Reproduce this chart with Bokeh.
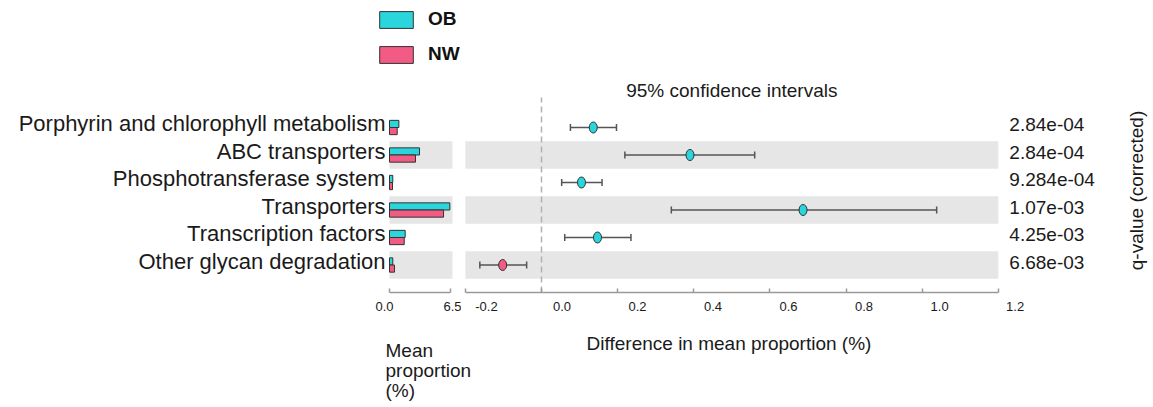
import math
from bokeh.plotting import figure
from bokeh.models import (Range1d, LinearAxis, FixedTicker, Label, Legend, LegendItem)
from bokeh.core.properties import value
from bokeh.layouts import row, column
from bokeh.embed import file_html
from bokeh.resources import INLINE

# ---------------- data ----------------
categories = ["Porphyrin and chlorophyll metabolism", "ABC transporters",
              "Phosphotransferase system", "Transporters",
              "Transcription factors", "Other glycan degradation"]
ob_mean = [1.00, 3.20, 0.35, 6.43, 1.67, 0.35]
nw_mean = [0.82, 2.77, 0.32, 5.76, 1.57, 0.53]
diff_mean = [0.136, 0.390, 0.105, 0.687, 0.147, -0.102]
ci_low = [0.076, 0.219, 0.053, 0.341, 0.061, -0.162]
ci_high = [0.197, 0.560, 0.159, 1.038, 0.235, -0.039]
q_values = ["2.84e-04", "2.84e-04", "9.284e-04", "1.07e-03", "4.25e-03", "6.68e-03"]
group_names = ["OB", "NW"]
bar_ticks = [0.0, 6.5]
diff_ticks = [-0.2, 0.0, 0.2, 0.4, 0.6, 0.8, 1.0, 1.2]
mean_label_lines = ["Mean", "proportion", "(%)"]
diff_axis_title = "Difference in mean proportion (%)"

# ---------------- style / layout ----------------
FONT = "Liberation Sans"
TXT = "#1a1a1a"
CYAN = "#2ad6dc"
PINK = "#f25c84"
BAND = "#e6e6e6"
AXC = "#9a9a9a"
W_A, W_B, W = 461, 692, 1153
H_TOP, H_BOT = 321, 86
AXIS_Y = 292                  # pixel row of the x axes
ROW_PX = 27.5                 # pixel height of one category row

n = len(categories)
ypos = [n - i for i in range(n)]          # first category on top
band_rows = ypos[1::2]
y_top = n + 1.09

# pixel anchors of the two x scales
A0, A_PER = 389, 61 / 6.5          # left panel: value 0 at px 389
B0, B_PER = 541, 380.7             # right panel: value 0 at px 541
LA0, LA_PER = 384, 73 / 6.5        # left tick-label positions
LB0, LB_PER = 561.5, 377.6         # right tick-label positions (set to the right of ticks)


def rng(p0, per, left, right):
    return Range1d((left - p0) / per, (right - p0) / per)


def base_fig(width, xr, lr):
    p = figure(width=width, height=H_TOP, x_range=xr, y_range=Range1d(0, AXIS_Y / ROW_PX),
               output_backend="svg", toolbar_location=None, title=None,
               x_axis_location=None, y_axis_location=None,
               min_border_left=0, min_border_right=0,
               min_border_top=0, min_border_bottom=H_TOP - AXIS_Y)
    p.extra_x_ranges = {"lbl": lr}
    p.outline_line_color = None
    p.grid.visible = False
    return p


def add_axes(p, ticks, bounds):
    ax = LinearAxis(ticker=FixedTicker(ticks=ticks), bounds=bounds)
    ax.axis_line_color = AXC
    ax.axis_line_width = 1.5
    ax.major_tick_line_color = AXC
    ax.major_tick_line_width = 1.5
    ax.major_tick_in = 4
    ax.major_tick_out = 0
    ax.minor_tick_line_color = None
    ax.major_label_text_color = None
    ax.major_label_text_font_size = "1px"
    ax.major_label_standoff = 0
    p.add_layout(ax, "below")
    lx = LinearAxis(x_range_name="lbl", ticker=FixedTicker(ticks=ticks),
                    major_label_overrides={t: f"{t:.1f}" for t in ticks})
    lx.axis_line_color = None
    lx.major_tick_line_color = None
    lx.minor_tick_line_color = None
    lx.major_tick_in = 0
    lx.major_tick_out = 0
    lx.major_label_standoff = 9
    lx.major_label_text_font = FONT
    lx.major_label_text_font_size = "13px"
    lx.major_label_text_color = TXT
    p.add_layout(lx, "below")


# ---------------- left panel: mean proportions ----------------
pa = base_fig(W_A, rng(A0, A_PER, 0, W_A), rng(LA0, LA_PER, 0, W_A))
pa.hbar(y=band_rows, left=0, right=6.71, height=1, fill_color=BAND, line_color=None)
r_ob = pa.hbar(y=[y + 0.13 for y in ypos], left=0, right=ob_mean, height=0.26,
               fill_color=CYAN, line_color="#333333", line_width=1)
r_nw = pa.hbar(y=[y - 0.13 for y in ypos], left=0, right=nw_mean, height=0.26,
               fill_color=PINK, line_color="#333333", line_width=1)
pa.text(x=[0] * n, y=ypos, text=categories, x_offset=-4, y_offset=-4,
        text_align="right", text_baseline="middle", text_font=value(FONT),
        text_font_size="22px", text_color=TXT)
add_axes(pa, bar_ticks, (0, 6.5))

legend = Legend(items=[LegendItem(label=group_names[0], renderers=[r_ob]),
                       LegendItem(label=group_names[1], renderers=[r_nw])],
                location=(375, 227), orientation="vertical",
                glyph_width=42, glyph_height=21, spacing=13, label_standoff=11,
                padding=0, margin=0, border_line_color=None, background_fill_alpha=0,
                label_text_font=FONT, label_text_font_size="19px",
                label_text_font_style="bold", label_text_color="#111111", label_height=21)
pa.add_layout(legend)

# ---------------- right panel: differences with CI ----------------
pb = base_fig(W_B, rng(B0, B_PER, W_A, W_A + W_B), rng(LB0, LB_PER, W_A, W_A + W_B))
pb.hbar(y=band_rows, left=diff_ticks[0], right=diff_ticks[-1], height=1,
        fill_color=BAND, line_color=None)
pb.segment(x0=[0], y0=[0], x1=[0], y1=[y_top], line_color="#b0b0b0",
           line_dash="6 4", line_width=1.5)
pb.segment(x0=ci_low, y0=ypos, x1=ci_high, y1=ypos, line_color="#555555", line_width=1.5)
pb.segment(x0=ci_low, y0=[y - 0.13 for y in ypos], x1=ci_low, y1=[y + 0.13 for y in ypos],
           line_color="#555555", line_width=1.5)
pb.segment(x0=ci_high, y0=[y - 0.13 for y in ypos], x1=ci_high, y1=[y + 0.13 for y in ypos],
           line_color="#555555", line_width=1.5)
pt_colors = [CYAN if d > 0 else PINK for d in diff_mean]
pb.ellipse(x=diff_mean, y=ypos, width=8, height=11, width_units="screen",
           height_units="screen", fill_color=pt_colors, line_color="#333333", line_width=1)
pb.text(x=[diff_ticks[-1]] * n, y=ypos, text=q_values, x_offset=11, y_offset=-3,
        text_align="left", text_baseline="middle", text_font=value(FONT),
        text_font_size="19px", text_color=TXT)
add_axes(pb, diff_ticks, (diff_ticks[0], diff_ticks[-1]))

pb.add_layout(Label(x=0.5, y=y_top + 0.27, text="95% confidence intervals",
                    text_font=FONT, text_font_size="19px", text_color=TXT,
                    text_align="center", text_baseline="middle"))
pb.add_layout(Label(x=(1136 - B0) / B_PER, y=3.71, text="q-value (corrected)",
                    text_font=FONT, text_font_size="19px", text_color=TXT,
                    text_align="center", text_baseline="middle", angle=math.pi / 2))

# ---------------- strip below: axis titles (page-pixel coordinates) ----------------
pc = figure(width=W, height=H_BOT, x_range=Range1d(0, W), y_range=Range1d(H_TOP + H_BOT, H_TOP),
            output_backend="svg", toolbar_location=None, title=None,
            x_axis_location=None, y_axis_location=None,
            min_border_left=0, min_border_right=0, min_border_top=0, min_border_bottom=0)
pc.outline_line_color = None
pc.grid.visible = False
for i, line in enumerate(mean_label_lines):
    pc.add_layout(Label(x=385, y=350 + 20 * i, text=line, text_font=FONT,
                        text_font_size="19px", text_color=TXT,
                        text_align="left", text_baseline="middle"))
pc.add_layout(Label(x=728.5, y=342.5, text=diff_axis_title, text_font=FONT,
                    text_font_size="19px", text_color=TXT,
                    text_align="center", text_baseline="middle"))

layout = column(row(pa, pb), pc)
open("out.html", "w").write(file_html(layout, INLINE))
